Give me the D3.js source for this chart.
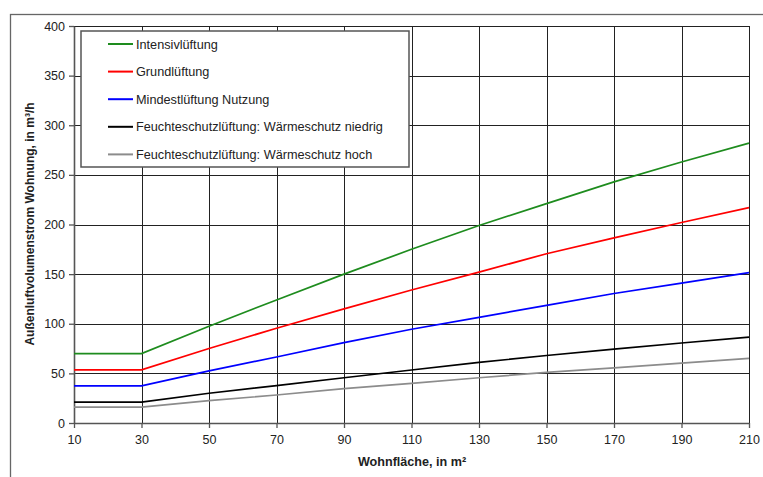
<!DOCTYPE html>
<html><head><meta charset="utf-8">
<script src="https://cdn.jsdelivr.net/npm/d3@7"></script>
<style>body{margin:0;background:#fff}svg{display:block;font-family:"Liberation Sans",Arial,sans-serif}</style>
</head><body><svg id="c" width="763" height="477"></svg>
<script>
const xValues = [10, 20, 30, 50, 70, 90, 110, 130, 150, 170, 190, 210];
const intensiv = [70, 70, 70, 97.5, 124, 150, 175, 199, 221, 243, 263, 282];
const grund = [53.5, 53.5, 53.5, 75, 95.5, 115, 134, 152, 170.5, 186.5, 202, 217];
const mindest = [37.5, 37.5, 37.5, 52.5, 66.5, 81, 94.5, 106.5, 118.5, 130.5, 141, 151.5];
const feuchteNiedrig = [21, 21, 21, 30, 37.6, 45.6, 53.4, 61, 68, 74.5, 80.6, 86.6];
const feuchteHoch = [16, 16, 16, 22.5, 28.2, 34.6, 40, 45.6, 51, 55.5, 60.4, 65.2];
const seriesNames = ["Intensivlüftung", "Grundlüftung", "Mindestlüftung Nutzung", "Feuchteschutzlüftung: Wärmeschutz niedrig", "Feuchteschutzlüftung: Wärmeschutz hoch"];
const seriesColors = ["#1e8c1e", "#ff0000", "#0000ff", "#000000", "#8c8c8c"];
const xTicks = [10, 30, 50, 70, 90, 110, 130, 150, 170, 190, 210];
const yTicks = [0, 50, 100, 150, 200, 250, 300, 350, 400];
const xTitle = "Wohnfläche, in m²";
const yTitle = "Außenluftvolumenstrom Wohnung, in m³/h";

const series = [intensiv, grund, mindest, feuchteNiedrig, feuchteHoch];
const svg = d3.select("#c");
const L = 74, R = 749, T = 26, B = 423;
const x = d3.scaleLinear().domain([10, 210]).range([L, R]);
const y = d3.scaleLinear().domain([0, 400]).range([B, T]);

// outer frame
svg.append("rect").attr("x", 10.5).attr("y", 14.5).attr("width", 800).attr("height", 500)
  .attr("fill", "none").attr("stroke", "#666").attr("stroke-width", 1.3);

// grid
const g = svg.append("g");
g.selectAll("line.h").data(yTicks.filter(d => d > 0)).join("line")
  .attr("x1", L).attr("x2", R).attr("y1", d => Math.round(y(d)) + 0.5).attr("y2", d => Math.round(y(d)) + 0.5)
  .attr("stroke", "#222").attr("stroke-width", 1);
g.selectAll("line.v").data(xTicks.filter(d => d > 10)).join("line")
  .attr("y1", T).attr("y2", B).attr("x1", d => Math.round(x(d)) + 0.5).attr("x2", d => Math.round(x(d)) + 0.5)
  .attr("stroke", "#222").attr("stroke-width", 1);

// axes
const xAxis = svg.append("g").attr("transform", `translate(0,${B})`)
  .call(d3.axisBottom(x).tickValues(xTicks).tickSize(5).tickPadding(7).tickSizeOuter(0));
const yAxis = svg.append("g").attr("transform", `translate(${L},0)`)
  .call(d3.axisLeft(y).tickValues(yTicks).tickSize(5).tickPadding(4).tickSizeOuter(0));
[xAxis, yAxis].forEach(a => {
  a.select(".domain").attr("stroke", "#555").attr("stroke-width", 1.6);
  a.selectAll(".tick line").attr("stroke", "#555").attr("stroke-width", 1.3);
  a.selectAll("text").attr("font-size", 12.5).attr("fill", "#222").attr("font-family", "Liberation Sans, Arial, sans-serif");
});

// lines
const line = d3.line().x((d, i) => x(xValues[i])).y(d => y(d));
series.forEach((s, k) => {
  svg.append("path").datum(s).attr("d", line).attr("fill", "none")
    .attr("stroke", seriesColors[k]).attr("stroke-width", 1.7);
});

// legend
const lg = svg.append("g");
lg.append("rect").attr("x", 81).attr("y", 31).attr("width", 328).attr("height", 136)
  .attr("fill", "#fff").attr("stroke", "#555").attr("stroke-width", 1.5);
seriesNames.forEach((n, k) => {
  const yy = 44 + k * 27.6;
  lg.append("line").attr("x1", 108).attr("x2", 133).attr("y1", yy).attr("y2", yy)
    .attr("stroke", seriesColors[k]).attr("stroke-width", 2);
  lg.append("text").attr("x", 136).attr("y", yy + 4.5).attr("font-size", 12.7).attr("fill", "#222").text(n);
});

// titles
svg.append("text").attr("x", 412).attr("y", 466).attr("text-anchor", "middle")
  .attr("font-size", 12.6).attr("font-weight", "bold").attr("fill", "#222").text(xTitle);
svg.append("text").attr("transform", "translate(34,224) rotate(-90)").attr("text-anchor", "middle")
  .attr("font-size", 12).attr("font-weight", "bold").attr("fill", "#222").text(yTitle);
</script></body></html>
